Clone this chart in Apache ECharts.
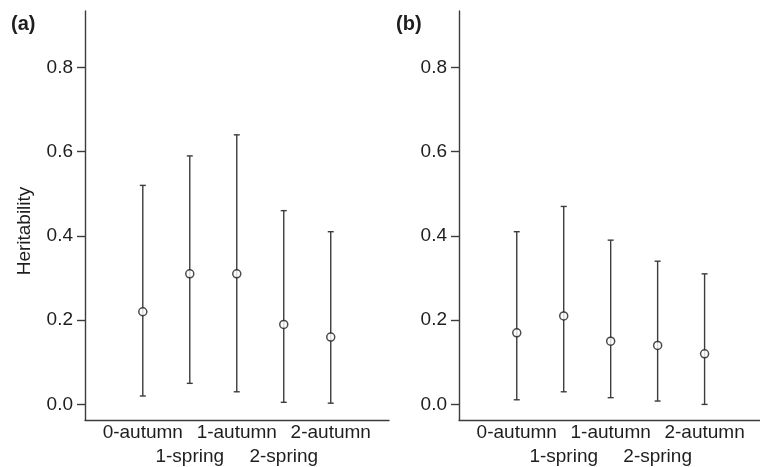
<!DOCTYPE html>
<html>
<head>
<meta charset="utf-8">
<script src="https://cdn.jsdelivr.net/npm/echarts@6/dist/echarts.min.js"></script>
<style>
  html,body{margin:0;padding:0;background:#fff;}
  #main{width:760px;height:467px;}
</style>
</head>
<body>
<div id="main"></div>
<script>
// categories at x positions 1..5; autumns on first label row, springs on second
const periods = ['0-autumn', '1-spring', '1-autumn', '2-spring', '2-autumn'];
const xPos = [1, 2, 3, 4, 5];
const autumnPos = [1, 3, 5];
const springPos = [2, 4];
const yTicks = [0, 0.2, 0.4, 0.6, 0.8];

// panel (a)
const estA = [0.22, 0.31, 0.31, 0.19, 0.16];
const lowA = [0.02, 0.05, 0.03, 0.005, 0.003];
const highA = [0.52, 0.59, 0.64, 0.46, 0.41];

// panel (b)
const estB = [0.17, 0.21, 0.15, 0.14, 0.12];
const lowB = [0.011, 0.03, 0.016, 0.008, 0.0];
const highB = [0.41, 0.47, 0.39, 0.34, 0.31];

const font = 'Liberation Sans, Arial, Helvetica, sans-serif';
const ink = '#1e1e1e';
const lineCol = '#3c3c3c';

let chart = echarts.init(document.getElementById('main'), null, {renderer: 'canvas'});

function xAxisFor(idx, max, vals, margin, showLine) {
  return {
    type: 'value',
    gridIndex: idx,
    position: 'bottom',
    min: -0.23,
    max: max,
    splitLine: {show: false},
    axisTick: {show: false},
    axisLine: {show: showLine, onZero: false, lineStyle: {color: lineCol, width: 1.4}},
    axisLabel: {
      customValues: vals,
      showMinLabel: true,
      showMaxLabel: true,
      color: ink,
      fontFamily: font,
      fontSize: 19,
      margin: margin,
      formatter: function (v) { return periods[Math.round(v) - 1]; }
    }
  };
}

function yAxisFor(idx) {
  return {
    type: 'value',
    gridIndex: idx,
    min: -0.037,
    max: 0.934,
    splitLine: {show: false},
    axisLine: {show: true, onZero: false, lineStyle: {color: lineCol, width: 1.4}},
    axisTick: {show: true, customValues: yTicks, length: 8, lineStyle: {color: lineCol, width: 1.4}},
    axisLabel: {
      customValues: yTicks,
      color: ink,
      fontFamily: font,
      fontSize: 19,
      margin: 12,
      formatter: function (v) { return v.toFixed(1); }
    }
  };
}

function errorSeries(idx, low, high) {
  return {
    type: 'custom',
    xAxisIndex: idx,
    yAxisIndex: idx,
    data: xPos.map((x, i) => [x, low[i], high[i]]),
    renderItem: function (params, api) {
      let top = api.coord([api.value(0), api.value(2)]);
      let bot = api.coord([api.value(0), api.value(1)]);
      let half = 3;
      let st = {stroke: lineCol, lineWidth: 1.4};
      return {
        type: 'group',
        children: [
          {type: 'line', shape: {x1: top[0], y1: top[1], x2: bot[0], y2: bot[1]}, style: st},
          {type: 'line', shape: {x1: top[0] - half, y1: top[1], x2: top[0] + half, y2: top[1]}, style: st},
          {type: 'line', shape: {x1: bot[0] - half, y1: bot[1], x2: bot[0] + half, y2: bot[1]}, style: st}
        ]
      };
    },
    z: 2
  };
}

function pointSeries(idx, est) {
  return {
    type: 'scatter',
    xAxisIndex: idx,
    yAxisIndex: idx,
    data: xPos.map((x, i) => [x, est[i]]),
    symbol: 'circle',
    symbolSize: 8,
    itemStyle: {color: '#fff', borderColor: ink, borderWidth: 1.5},
    z: 3
  };
}

let option = {
  animation: false,
  backgroundColor: '#fff',
  grid: [
    {left: 85, top: 11, width: 304, height: 409},
    {left: 459, top: 11, width: 301, height: 409}
  ],
  xAxis: [
    xAxisFor(0, 6.24, autumnPos, 3, true),
    xAxisFor(1, 6.18, autumnPos, 3, true),
    xAxisFor(0, 6.24, springPos, 27, false),
    xAxisFor(1, 6.18, springPos, 27, false)
  ],
  yAxis: [yAxisFor(0), yAxisFor(1)],
  graphic: [
    {type: 'text', left: 11, top: 14, style: {text: '(a)', font: 'bold 20px ' + font, fill: ink}},
    {type: 'text', left: 396, top: 14, style: {text: '(b)', font: 'bold 20px ' + font, fill: ink}},
    {
      type: 'text', x: 25, y: 231, rotation: Math.PI / 2,
      style: {text: 'Heritability', font: '19px ' + font, fill: ink, align: 'center', verticalAlign: 'middle'}
    }
  ],
  series: [
    errorSeries(0, lowA, highA),
    pointSeries(0, estA),
    errorSeries(1, lowB, highB),
    pointSeries(1, estB)
  ]
};
chart.setOption(option);
</script>
</body>
</html>
